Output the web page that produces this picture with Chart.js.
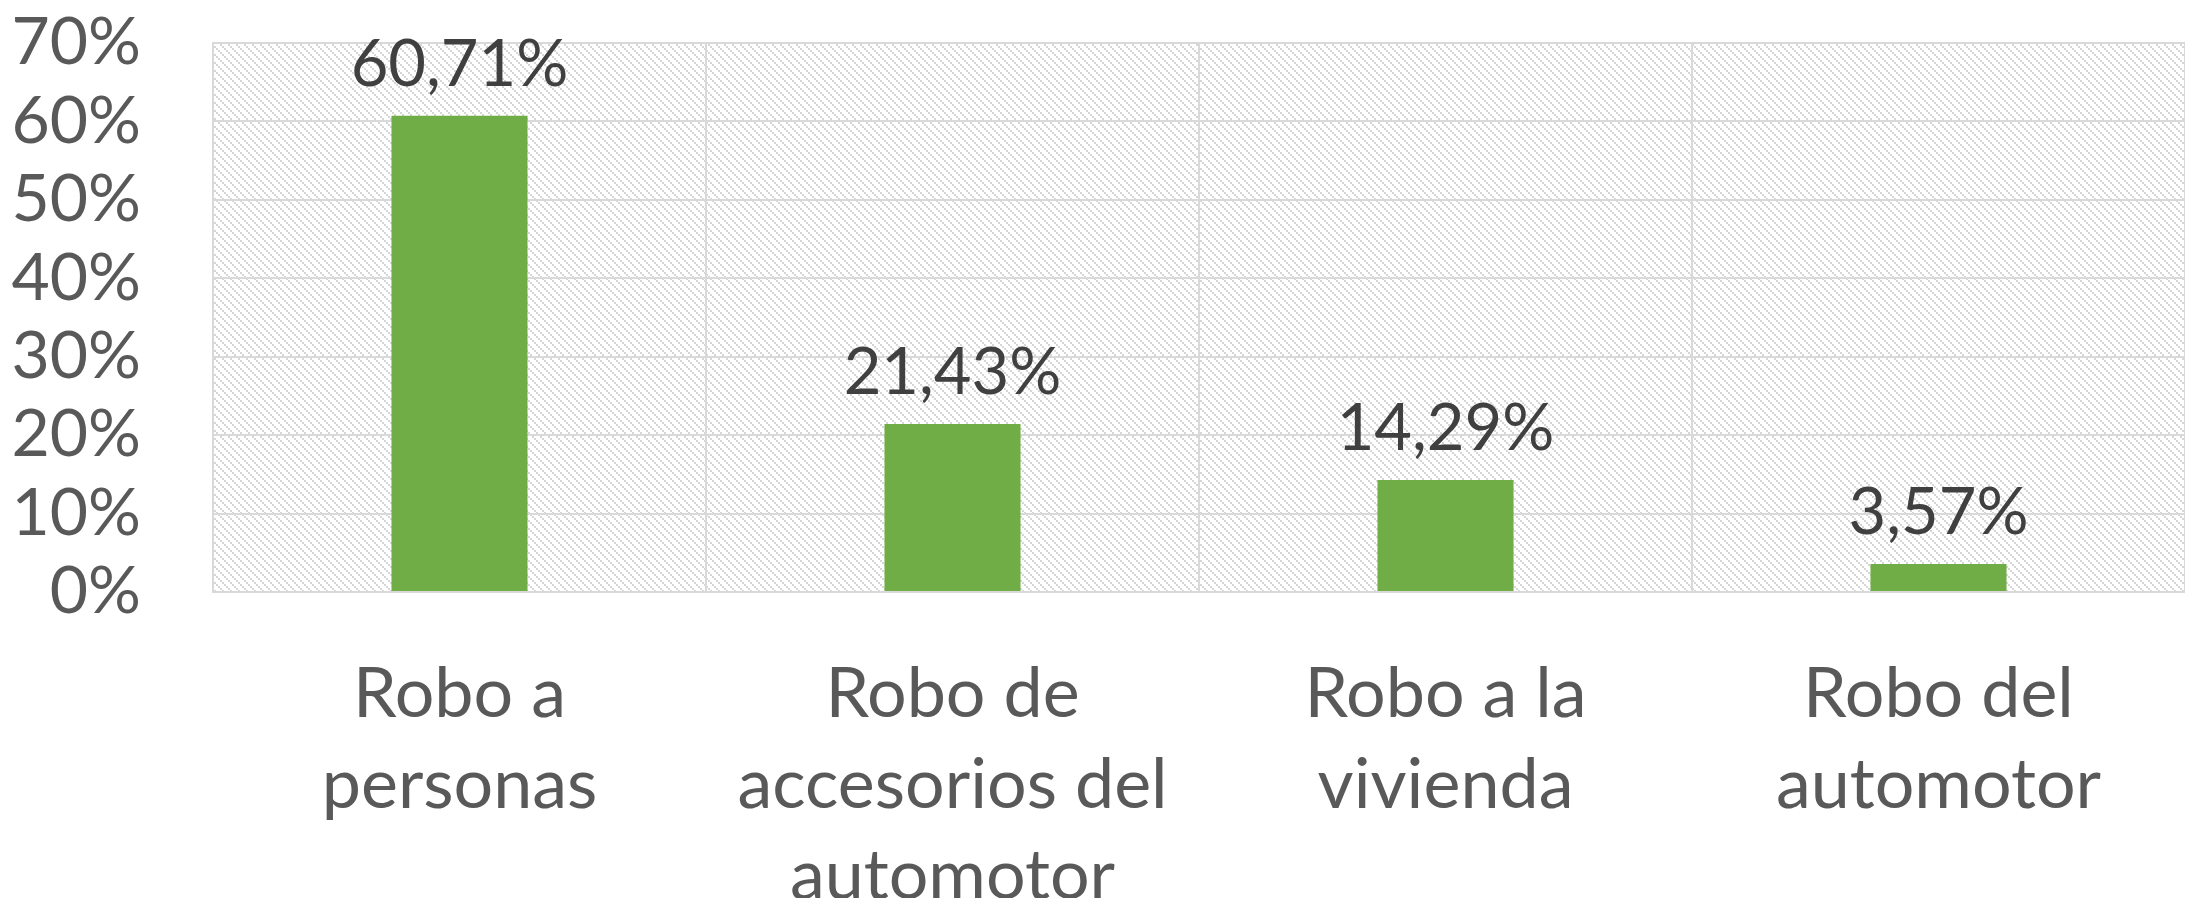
<!DOCTYPE html>
<html lang="es">
<head>
  <meta charset="UTF-8">
  <title>Robos</title>
  <style>
    body { margin: 0; background: #ffffff; }
    .container { width: 2185px; height: 898px; }
  </style>
</head>
<body>
  <div class="container">
    <canvas id="robos" width="2185" height="898"></canvas>
  </div>

  <script src="https://cdn.jsdelivr.net/npm/chart.js"></script>
  <script>
    const categories = [
      ['Robo a', 'personas'],
      ['Robo de', 'accesorios del', 'automotor'],
      ['Robo a la', 'vivienda'],
      ['Robo del', 'automotor']
    ];
    const values = [60.71, 21.43, 14.29, 3.57];
    const valueLabels = ['60,71%', '21,43%', '14,29%', '3,57%'];

    const gridColor = '#d9d9d9';

    // diagonal hatch tile (2x2 blocks stepping down-right), like the Excel plot fill
    function hatchPattern(ctx) {
      const tile = document.createElement('canvas');
      tile.width = 8;
      tile.height = 8;
      const t = tile.getContext('2d');
      t.fillStyle = '#ffffff';
      t.fillRect(0, 0, 8, 8);
      t.fillStyle = '#d6d6d6';
      for (let k = 0; k < 8; k += 2) {
        t.fillRect(k, k, 2, 2);
      }
      return ctx.createPattern(tile, 'repeat');
    }

    const plotBackground = {
      id: 'plotBackground',
      beforeDraw(chart) {
        const { ctx, chartArea } = chart;
        ctx.save();
        ctx.fillStyle = hatchPattern(ctx);
        ctx.fillRect(chartArea.left, chartArea.top,
                     chartArea.right - chartArea.left, chartArea.bottom - chartArea.top);
        ctx.restore();
      }
    };

    // value labels above the bars
    const barLabels = {
      id: 'barLabels',
      afterDatasetsDraw(chart) {
        const { ctx } = chart;
        const meta = chart.getDatasetMeta(0);
        ctx.save();
        ctx.font = '65px Lato';
        ctx.fillStyle = '#404040';
        ctx.textAlign = 'center';
        ctx.textBaseline = 'alphabetic';
        meta.data.forEach((bar, i) => {
          ctx.fillText(valueLabels[i], bar.x, bar.y - 30);
        });
        ctx.restore();
      }
    };

    const ctx = document.getElementById('robos').getContext('2d');
    new Chart(ctx, {
      type: 'bar',
      data: {
        labels: categories,
        datasets: [{
          data: values,
          backgroundColor: '#70ad47',
          borderWidth: 0,
          categoryPercentage: 1,
          barPercentage: 0.276
        }]
      },
      options: {
        responsive: false,
        animation: false,
        layout: { padding: { top: 43, right: 0, left: 0, bottom: 0 } },
        plugins: {
          legend: { display: false },
          tooltip: { enabled: false }
        },
        scales: {
          x: {
            grid: { color: gridColor, lineWidth: 2, drawTicks: false },
            border: { color: gridColor, width: 2 },
            ticks: {
              color: '#595959',
              font: { family: 'Lato', size: 70, lineHeight: 1.3 },
              padding: 57,
              maxRotation: 0,
              autoSkip: false
            },
            afterFit(axis) { axis.height = 306; }
          },
          y: {
            min: 0,
            max: 70,
            grid: { color: gridColor, lineWidth: 2, drawTicks: false },
            border: { color: gridColor, width: 2 },
            ticks: {
              stepSize: 10,
              autoSkip: false,
              color: '#595959',
              font: { family: 'Lato', size: 66 },
              padding: 72,
              callback: v => v + '%'
            },
            afterFit(axis) {
              axis.width = 213;
              // the tick padding is meant to be horizontal only
              axis.paddingTop = 0;
              axis.paddingBottom = 0;
            }
          }
        }
      },
      plugins: [plotBackground, barLabels]
    });
  </script>
</body>
</html>
